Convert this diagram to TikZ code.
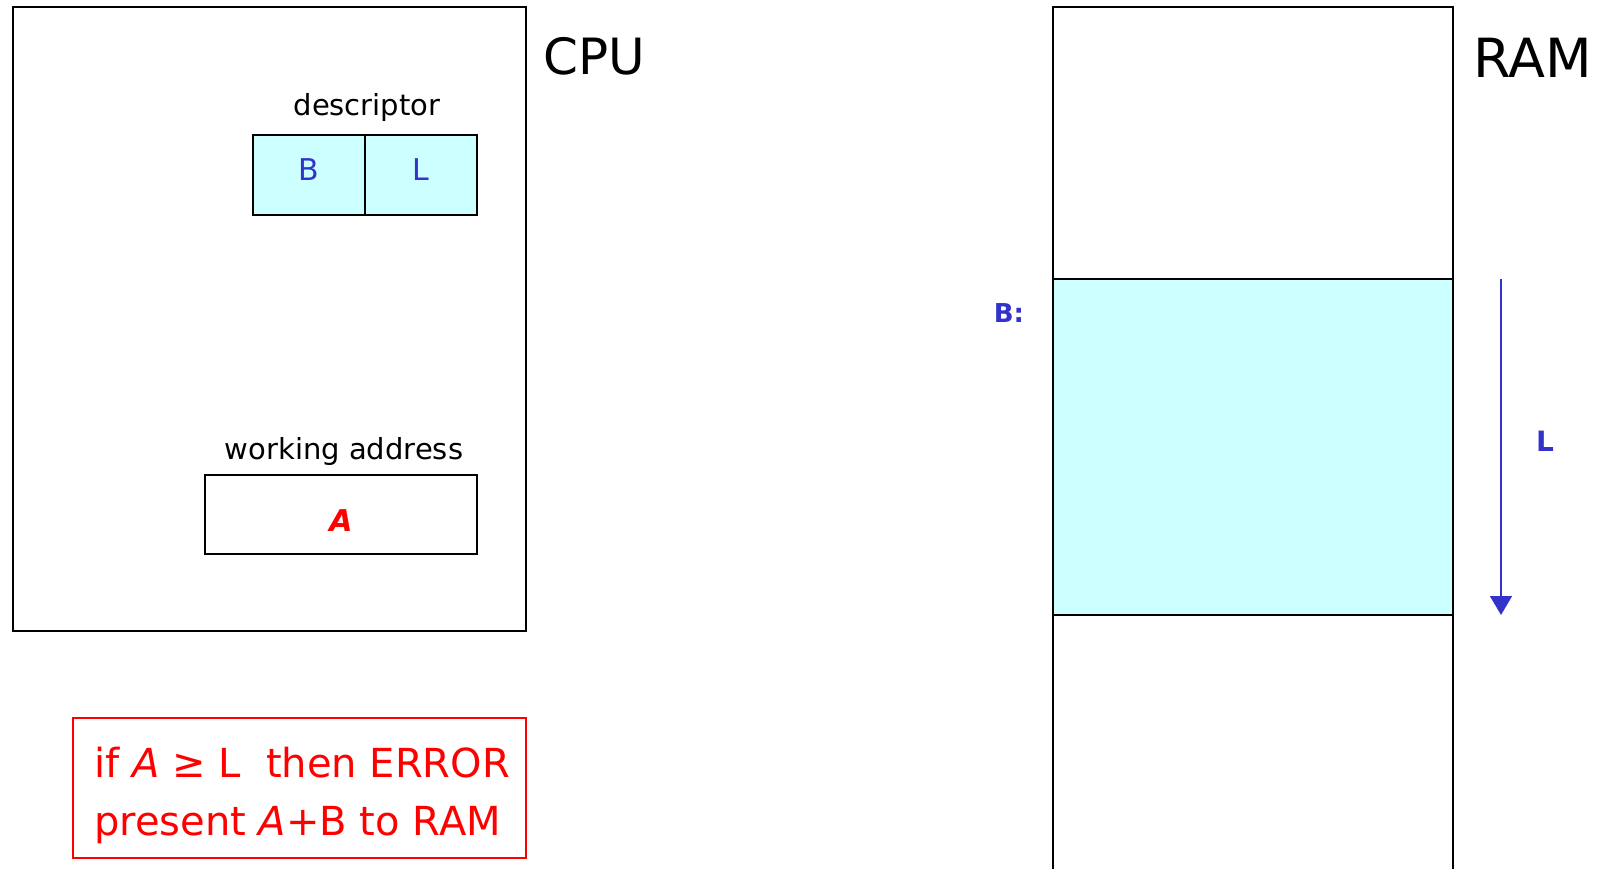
\documentclass[tikz,border=0pt]{standalone}
\usepackage{fontspec}
\setmainfont{DejaVu Sans}
\usetikzlibrary{arrows.meta}
\definecolor{cyanfill}{HTML}{CCFFFF}
\definecolor{myblue}{HTML}{3333CC}
\definecolor{myred}{HTML}{FF0000}
\tikzset{
  box/.style={draw=black, line width=1.6pt, inner sep=0pt, outer sep=0pt},
  lbl/.style={inner sep=0pt, font=\fontsize{29}{34}\selectfont},
  bluelbl/.style={inner sep=0pt, text=myblue, font=\fontsize{30}{34}\selectfont},
  title/.style={inner sep=0pt, font=\fontsize{50}{56}\selectfont},
}
\begin{document}
\begin{tikzpicture}[x=1pt,y=-1pt]
\useasboundingbox (0,0) rectangle (1598,869);
% CPU
\node[box, minimum width=513pt, minimum height=624pt] (cpu) at (269.5,319) {};
\node[title] (cpulbl) at (594,56) {CPU};
% descriptor
\node[lbl] (desclbl) at (367,108) {descriptor};
\node[box, fill=cyanfill, minimum width=112pt, minimum height=79.5pt] (dB) at (309,175) {};
\node[box, fill=cyanfill, minimum width=112pt, minimum height=79.5pt] (dL) at (421,175) {};
\node[bluelbl] at ([yshift=5pt]dB.center) {B};
\node[bluelbl] at ([yshift=5pt]dL.center) {L};
% working address
\node[lbl] (walbl) at (344,451) {working address};
\node[box, minimum width=272pt, minimum height=79pt] (wa) at (341,514.5) {};
\node[inner sep=0pt, text=myred, font=\fontsize{30}{34}\selectfont\bfseries\itshape] at ([yshift=-6pt]wa.center) {A};
% error box
\node[draw=myred, line width=1.6pt, minimum width=453pt, minimum height=140pt, inner sep=0pt] (err) at (299.5,788) {};
\node[inner sep=0pt, text=myred, font=\fontsize{40}{58}\selectfont, align=left, anchor=west] (errtxt) at (94,795) {if \textit{A} ≥ L\ \ then ERROR\\present \textit{A}+B to RAM};
% RAM
\node[box, minimum width=400pt, minimum height=880pt, anchor=north west] (ram) at (1053,7) {};
\node[box, fill=cyanfill, minimum width=400pt, minimum height=336pt, anchor=north west] (seg) at (1053,279) {};
\node[title, font=\fontsize{54}{60}\selectfont, anchor=west] (ramlbl) at (1473,58) {RAM};
\node[inner sep=0pt, text=myblue, font=\fontsize{26}{30}\selectfont\bfseries] (blbl) at (1009,313) {B:};
\coordinate (atop) at (1501,279);
\coordinate (abot) at (1501,615);
\draw[myblue, line width=1.6pt, -{Triangle[width=22pt,length=19pt]}] (atop) -- (abot);
\node[bluelbl, font=\fontsize{28}{32}\selectfont\bfseries] (llbl) at (1545,441) {L};
\end{tikzpicture}
\end{document}
